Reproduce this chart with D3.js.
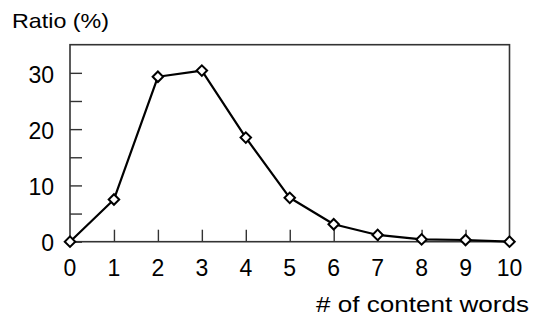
<!DOCTYPE html>
<html>
<head>
<meta charset="utf-8">
<script src="https://cdn.jsdelivr.net/npm/d3@7"></script>
<style>
  body { margin: 0; background: #fff; }
  text { font-family: "Liberation Sans", Arial, sans-serif; fill: #000; }
</style>
</head>
<body>
<div id="chart"></div>
<script>
// Chart data
const words = [0, 1, 2, 3, 4, 5, 6, 7, 8, 9, 10];
const ratio = [0, 7.5, 29.3, 30.4, 18.5, 7.8, 3.1, 1.2, 0.4, 0.3, 0.0];
const yTicks = [0, 10, 20, 30];
const yMinorTicks = [5, 15, 25];

const width = 535;
const height = 318;
const margin = { top: 44.7, right: 25.5, bottom: 76.3, left: 70 };

const svg = d3.select('#chart')
  .append('svg')
  .attr('width', width)
  .attr('height', height);

const x = d3.scaleLinear()
  .domain([0, 10])
  .range([margin.left, width - margin.right]);

const y = d3.scaleLinear()
  .domain([0, 35])
  .range([height - margin.bottom, margin.top]);

const frameColor = '#333';

// Frame (left, bottom, top, right)
svg.append('rect')
  .attr('x', x(0))
  .attr('y', y(35))
  .attr('width', x(10) - x(0))
  .attr('height', y(0) - y(35))
  .attr('fill', 'none')
  .attr('stroke', frameColor)
  .attr('stroke-width', 1.6);

// Y axis, ticks pointing inward
const yAxis = d3.axisRight(y)
  .tickValues(yTicks.concat(yMinorTicks))
  .tickSize(12)
  .tickFormat('');
svg.append('g')
  .attr('transform', `translate(${x(0)},0)`)
  .call(yAxis)
  .call(g => g.select('.domain').remove())
  .call(g => g.selectAll('line').attr('stroke', frameColor).attr('stroke-width', 1.4));

svg.append('g')
  .selectAll('text')
  .data(yTicks)
  .enter()
  .append('text')
  .attr('x', 54)
  .attr('y', d => y(d))
  .attr('dy', '0.42em')
  .attr('text-anchor', 'end')
  .attr('font-size', 23)
  .text(d => d);

// X axis, ticks pointing up
const xAxis = d3.axisTop(x)
  .tickValues(words.slice(1, 10))
  .tickSize(12)
  .tickFormat('');
svg.append('g')
  .attr('transform', `translate(0,${y(0)})`)
  .call(xAxis)
  .call(g => g.select('.domain').remove())
  .call(g => g.selectAll('line').attr('stroke', frameColor).attr('stroke-width', 1.4));

svg.append('g')
  .selectAll('text')
  .data(words)
  .enter()
  .append('text')
  .attr('x', d => x(d))
  .attr('y', 276)
  .attr('text-anchor', 'middle')
  .attr('font-size', 23)
  .text(d => d);

// Axis titles
svg.append('text')
  .attr('x', 12)
  .attr('y', 28)
  .attr('font-size', 21)
  .attr('textLength', 97)
  .attr('lengthAdjust', 'spacingAndGlyphs')
  .text('Ratio (%)');

svg.append('text')
  .attr('x', 316)
  .attr('y', 312)
  .attr('font-size', 22)
  .attr('textLength', 213)
  .attr('lengthAdjust', 'spacingAndGlyphs')
  .text('# of content words');

// Line
const line = d3.line()
  .x((d, i) => x(words[i]))
  .y(d => y(d));

svg.append('path')
  .datum(ratio)
  .attr('d', line)
  .attr('fill', 'none')
  .attr('stroke', '#000')
  .attr('stroke-width', 2.2)
  .attr('stroke-linejoin', 'round');

// Diamond markers
const diamond = d3.symbol().type(d3.symbolSquare).size(55);
svg.append('g')
  .selectAll('path')
  .data(ratio)
  .enter()
  .append('path')
  .attr('d', diamond)
  .attr('transform', (d, i) => `translate(${x(words[i])},${y(d)}) rotate(45)`)
  .attr('fill', '#fff')
  .attr('stroke', '#000')
  .attr('stroke-width', 2);
</script>
</body>
</html>
